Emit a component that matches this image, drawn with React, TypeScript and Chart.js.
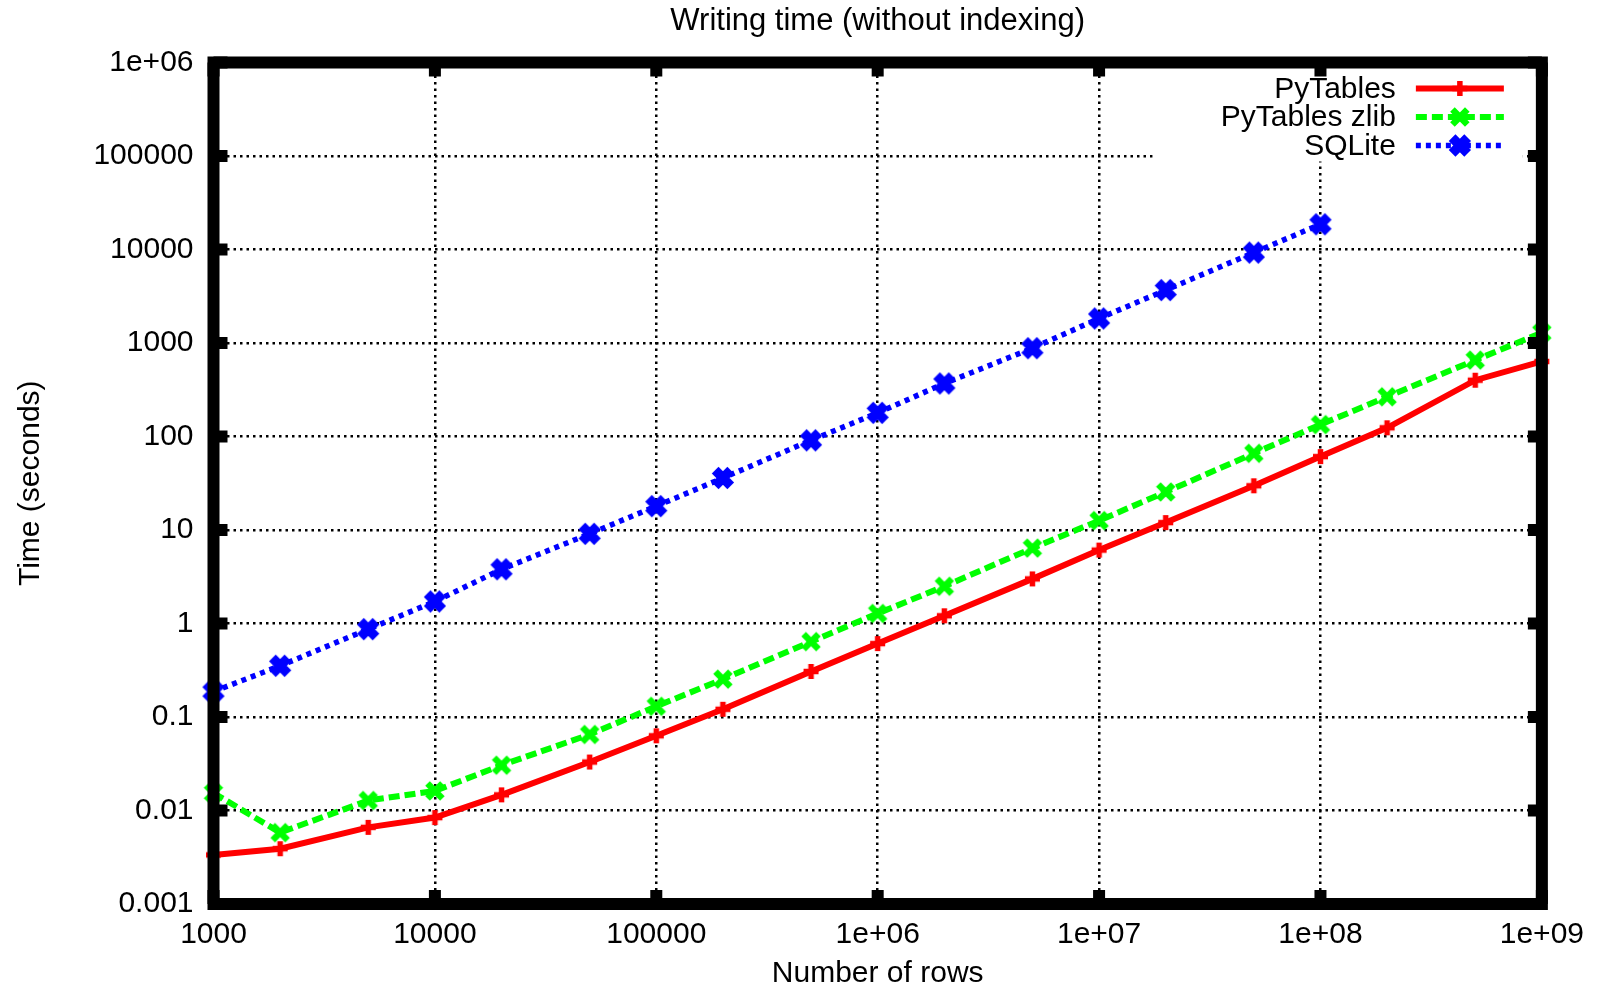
import React, { useEffect, useRef } from 'react';
import { Chart, registerables } from 'chart.js';

Chart.register(...registerables);

const FONT = "'Liberation Sans', Arial, Helvetica, sans-serif";

const titleText = 'Writing time (without indexing)';
const xTitle = 'Number of rows';
const yTitle = 'Time (seconds)';

const rows = [1000, 2000, 5000, 10000, 20000, 50000, 100000, 200000, 500000, 1e6, 2e6, 5e6, 1e7, 2e7, 5e7, 1e8, 2e8, 5e8, 1e9];
const pytables = [0.00335, 0.0039, 0.0066, 0.0084, 0.0147, 0.033, 0.063, 0.121, 0.307, 0.61, 1.21, 3.0, 6.1, 12.0, 29.7, 61, 124, 400, 635];
const pytablesZlib = [0.0154, 0.0058, 0.0128, 0.0162, 0.0305, 0.065, 0.13, 0.254, 0.64, 1.28, 2.5, 6.4, 12.6, 25.5, 66, 134, 266, 656, 1290];
const sqlite = [0.187, 0.353, 0.87, 1.72, 3.8, 9.1, 18, 36, 91, 179, 369, 880, 1830, 3680, 9270, 18600];

const seriesNames = ['PyTables', 'PyTables zlib', 'SQLite'];

const xTickValues = [1e3, 1e4, 1e5, 1e6, 1e7, 1e8, 1e9];
const xTickLabels = ['1000', '10000', '100000', '1e+06', '1e+07', '1e+08', '1e+09'];
const yTickValues = [1e-3, 1e-2, 1e-1, 1, 10, 100, 1000, 10000, 100000, 1e6];
const yTickLabels = ['0.001', '0.01', '0.1', '1', '10', '100', '1000', '10000', '100000', '1e+06'];

type Style = { color: string; width: number; dash: number[]; marker: 'cross' | 'crossRot' | 'blob'; radius: number; mw: number };
const styles: Style[] = [
  { color: '#ff0000', width: 6, dash: [], marker: 'cross', radius: 7.5, mw: 5.5 },
  { color: '#00ff00', width: 6, dash: [11, 5], marker: 'crossRot', radius: 10.5, mw: 6.5 },
  { color: '#0000ff', width: 5.5, dash: [5, 5], marker: 'blob', radius: 11, mw: 9.5 },
];

function drawMarker(ctx: CanvasRenderingContext2D, s: Style, x: number, y: number) {
  ctx.save();
  ctx.setLineDash([]);
  ctx.lineCap = 'butt';
  ctx.strokeStyle = s.color;
  ctx.lineWidth = s.mw;
  const r = s.radius;
  ctx.beginPath();
  if (s.marker === 'cross') {
    ctx.moveTo(x - r, y); ctx.lineTo(x + r, y);
    ctx.moveTo(x, y - r); ctx.lineTo(x, y + r);
  } else {
    const d = r * Math.SQRT1_2;
    ctx.moveTo(x - d, y - d); ctx.lineTo(x + d, y + d);
    ctx.moveTo(x - d, y + d); ctx.lineTo(x + d, y - d);
  }
  ctx.stroke();
  if (s.marker === 'blob') {
    ctx.lineWidth = 4;
    ctx.beginPath();
    ctx.moveTo(x - r * 0.55, y); ctx.lineTo(x + r * 0.55, y);
    ctx.moveTo(x, y - r * 0.55); ctx.lineTo(x, y + r * 0.55);
    ctx.stroke();
  }
  ctx.restore();
}

function markerCanvas(s: Style): HTMLCanvasElement {
  const size = Math.ceil(2 * s.radius + s.mw + 4);
  const c = document.createElement('canvas');
  c.width = size;
  c.height = size;
  const cx = c.getContext('2d');
  if (cx) drawMarker(cx, s, size / 2, size / 2);
  return c;
}

const framePlugin = {
  id: 'gnuFrame',
  afterDatasetsDraw(chart: any) {
    const { ctx, chartArea: a, scales } = chart;
    ctx.save();
    // legend box
    ctx.fillStyle = '#fff';
    ctx.fillRect(a.right - 389, a.top, 370, 99);
    ctx.font = `30px ${FONT}`;
    ctx.textAlign = 'right';
    ctx.textBaseline = 'middle';
    const rowsY = [a.top + 26, a.top + 54.5, a.top + 83];
    seriesNames.forEach((name, i) => {
      const s = styles[i];
      const y = rowsY[i];
      ctx.fillStyle = '#000';
      ctx.fillText(name, a.right - 146, y + 1);
      ctx.save();
      ctx.strokeStyle = s.color;
      ctx.lineWidth = s.width;
      ctx.setLineDash(s.dash);
      ctx.beginPath();
      ctx.moveTo(a.right - 126, y);
      ctx.lineTo(a.right - 38, y);
      ctx.stroke();
      ctx.restore();
      drawMarker(ctx, s, a.right - 82, y);
    });
    // frame
    ctx.setLineDash([]);
    ctx.strokeStyle = '#000';
    ctx.lineWidth = 12;
    ctx.strokeRect(a.left, a.top, a.right - a.left, a.bottom - a.top);
    // ticks (all four sides)
    ctx.lineWidth = 12;
    ctx.beginPath();
    xTickValues.forEach((v) => {
      const px = scales.x.getPixelForValue(v);
      ctx.moveTo(px, a.bottom); ctx.lineTo(px, a.bottom - 14);
      ctx.moveTo(px, a.top); ctx.lineTo(px, a.top + 14);
    });
    yTickValues.forEach((v) => {
      const py = scales.y.getPixelForValue(v);
      ctx.moveTo(a.left, py); ctx.lineTo(a.left + 14, py);
      ctx.moveTo(a.right, py); ctx.lineTo(a.right - 14, py);
    });
    ctx.stroke();
    // title
    ctx.fillStyle = '#000';
    ctx.font = `31px ${FONT}`;
    ctx.textAlign = 'center';
    ctx.textBaseline = 'middle';
    ctx.fillText(titleText, (a.left + a.right) / 2, 21);
    ctx.restore();
  },
};

export default function App() {
  const ref = useRef<HTMLCanvasElement | null>(null);

  useEffect(() => {
    if (!ref.current) return;
    const series = [pytables, pytablesZlib, sqlite];
    const chart = new Chart(ref.current, {
      type: 'line',
      data: {
        datasets: series.map((vals, i) => {
          const img = markerCanvas(styles[i]);
          return {
            label: seriesNames[i],
            data: vals.map((v, j) => ({ x: rows[j], y: v })),
            borderColor: styles[i].color,
            backgroundColor: styles[i].color,
            borderWidth: styles[i].width,
            borderDash: styles[i].dash,
            borderCapStyle: 'butt' as const,
            pointStyle: img,
            pointRadius: styles[i].radius,
            pointHoverRadius: styles[i].radius,
            tension: 0,
            fill: false,
            clip: false as any,
          };
        }),
      },
      options: {
        responsive: false,
        animation: false,
        events: [],
        layout: { padding: { top: 62.5, right: 54, bottom: 0, left: 0 } },
        plugins: {
          legend: { display: false },
          title: { display: false },
          tooltip: { enabled: false },
        },
        scales: {
          x: {
            type: 'logarithmic',
            min: 1000,
            max: 1e9,
            afterBuildTicks: (scale: any) => {
              scale.ticks = xTickValues.map((v) => ({ value: v }));
            },
            afterFit: (scale: any) => {
              scale.height = 85;
            },
            ticks: {
              autoSkip: false,
              maxRotation: 0,
              padding: 13,
              color: '#000',
              font: { family: FONT, size: 30 },
              callback: (value: any) => xTickLabels[xTickValues.indexOf(Number(value))] ?? '',
            },
            grid: { color: '#000', lineWidth: 2.5, drawTicks: false },
            border: { display: false, dash: [2.5, 4] },
            title: {
              display: true,
              text: xTitle,
              color: '#000',
              font: { family: FONT, size: 30, lineHeight: 1 },
              padding: { top: 0, bottom: 0 },
            },
          },
          y: {
            type: 'logarithmic',
            min: 0.001,
            max: 1e6,
            afterBuildTicks: (scale: any) => {
              scale.ticks = yTickValues.map((v) => ({ value: v }));
            },
            afterFit: (scale: any) => {
              scale.width = 213.5;
            },
            ticks: {
              autoSkip: false,
              padding: 20,
              color: '#000',
              font: { family: FONT, size: 30 },
              callback: (value: any) => yTickLabels[yTickValues.indexOf(Number(value))] ?? '',
            },
            grid: { color: '#000', lineWidth: 2.5, drawTicks: false },
            border: { display: false, dash: [2.5, 4] },
            title: {
              display: true,
              text: yTitle,
              color: '#000',
              font: { family: FONT, size: 30, lineHeight: 1.2 },
              padding: { top: 13, bottom: 0 },
            },
          },
        },
      },
      plugins: [framePlugin],
    } as any);
    return () => chart.destroy();
  }, []);

  return (
    <div style={{ position: 'fixed', left: 0, top: 0, width: 1597, height: 989, background: '#fff' }}>
      <canvas ref={ref} width={1597} height={989} style={{ display: 'block', width: 1597, height: 989 }} />
    </div>
  );
}
